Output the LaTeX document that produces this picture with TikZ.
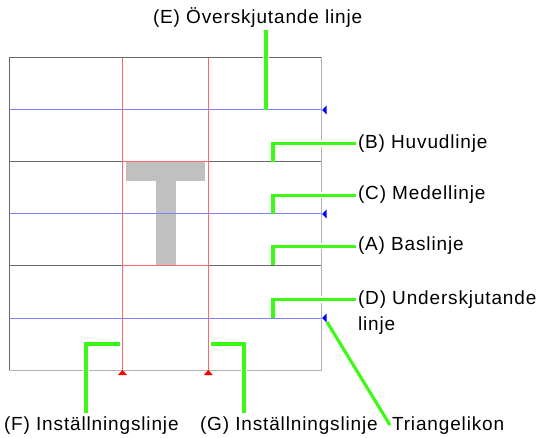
\documentclass[tikz,border=0pt]{standalone}
\usepackage{fontspec}
\setmainfont{Liberation Sans}[LetterSpace=4.5]
\usetikzlibrary{positioning,calc}
\definecolor{leadgreen}{RGB}{60,250,20}
\definecolor{rulegray}{RGB}{105,105,105}
\definecolor{framegray}{RGB}{178,178,178}
\definecolor{glyphgray}{RGB}{192,192,192}
\tikzset{every picture/.style={line width=1bp}}
\tikzset{
  leader/.style={leadgreen, line width=3.1bp,
    preaction={draw=white, line width=6.5bp, shorten >=3bp, shorten <=3bp}},
  lbl/.style={anchor=base west, inner sep=2bp, outer sep=0pt,
    font=\fontsize{19bp}{23bp}\selectfont},
  guide/.style={blue!50},
  setline/.style={red!60},
}

\begin{document}
\begin{tikzpicture}[x=1bp, y=-1bp]
    \useasboundingbox (0,0) rectangle (543,438);

    % 绘制 字形 T
    \fill[glyphgray] (126,162.5) rectangle (205,181);
    \fill[glyphgray] (155.5,181) rectangle (176,265.5);

    % 绘制 边框
    \draw[framegray] (9,58) rectangle (321,370);
    \draw[rulegray] (321,58) -- (9,58) -- (9,370);

    % 绘制 基准线
    \draw[rulegray] (9,162) -- (321,162);
    \draw[rulegray] (9,265) -- (321,265);
    \foreach \y in {110,214,318}
        \draw[guide] (9,\y) -- (321,\y);

    % 绘制 设置线
    \foreach \x in {122.5,208.3}
        \draw[setline] (\x,58) -- (\x,370);
    \draw[setline] (122.5,162) -- (208.3,162);
    \draw[setline] (122.5,265) -- (208.3,265);

    % 绘制 三角图标
    \foreach \y in {110,214,318}
        \fill[blue] (322,\y) -- (326.5,\y-4.5) -- (326.5,\y+4.5) -- cycle;
    \foreach \x in {122.5,208.3}
        \fill[red] (\x,370) -- (\x-4.5,375) -- (\x+4.5,375) -- cycle;

    % 标注
    \node[lbl] (lblE) at (151,24) {(E) Överskjutande linje};
    \node[lbl] (lblB) at (356,148.3) {(B) Huvudlinje};
    \node[lbl] (lblC) at (356,200) {(C) Medellinje};
    \node[lbl] (lblA) at (356,251) {(A) Baslinje};
    \node[lbl] (lblD) at (356,304.3) {(D) Underskjutande};
    \node[lbl] (lblDb) at (356,330) {linje};
    \node[lbl] (lblF) at (2,430) {(F) Inställningslinje};
    \node[lbl] (lblG) at (198,430) {(G) Inställningslinje};
    \node[lbl] (lblT) at (390,430) {Triangelikon};

    % 绘制 引线
    \coordinate (eEnd) at (266,110);
    \coordinate (bEnd) at (273,162);
    \coordinate (cEnd) at (273,214);
    \coordinate (aEnd) at (273,265);
    \coordinate (dEnd) at (273,318);
    \coordinate (fTop) at (120,344);
    \coordinate (fFoot) at (86,413);
    \coordinate (gTop) at (211,344);
    \coordinate (gFoot) at (244,413);
    \coordinate (triTip) at (327,322);
    \draw[leader] (lblE.south -| eEnd) -- (eEnd);
    \draw[leader] (lblB.west) -| (bEnd);
    \draw[leader] (lblC.west) -| (cEnd);
    \draw[leader] (lblA.west) -| (aEnd);
    \draw[leader] (lblD.west) -| (dEnd);
    \draw[leader] (fTop) -| (fFoot);
    \draw[leader] (gTop) -| (gFoot);
    \draw[leader] (triTip) -- (lblT.west);
\end{tikzpicture}
\end{document}
